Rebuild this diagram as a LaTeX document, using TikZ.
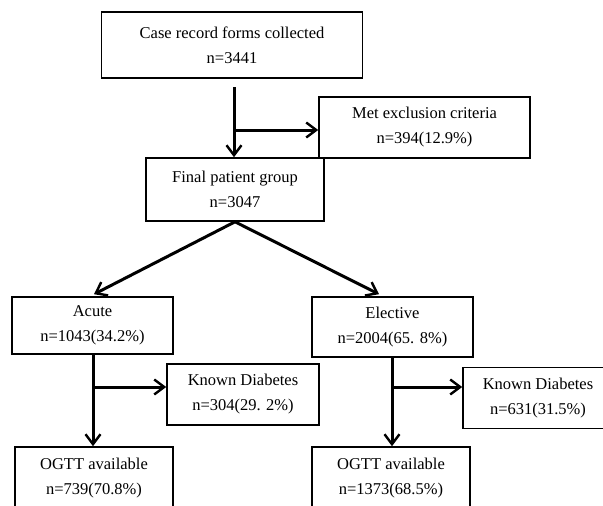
\documentclass[tikz,border=0pt]{standalone}
\usepackage{fontspec}
\setmainfont{Liberation Serif}
\usetikzlibrary{arrows.meta,calc}
\tikzset{
  box/.style={draw=black, line width=1.6pt, inner sep=0pt, align=center,
    font=\fontsize{16.5}{25}\selectfont},
  flow/.style={draw=black, line width=3pt, -{Straight Barb[length=10pt,width=15pt,line width=2.4pt]}}
}
\begin{document}
\begin{tikzpicture}[x=1pt,y=-1pt]
\useasboundingbox (0,0) rectangle (603,506);
\clip (0,0) rectangle (603,506);
\fill[white] (0,0) rectangle (603,506);

\node[box, minimum width=261pt, minimum height=66pt] (case) at (232,45) {Case record forms collected\\n=3441};
\node[box, minimum width=211pt, minimum height=61pt] (excl) at (424.5,127.5) {Met exclusion criteria\\n=394(12.9\%)};
\node[box, minimum width=178pt, minimum height=63pt] (final) at (235,189.5) {Final patient group\\n=3047};
\node[box, minimum width=161pt, minimum height=57pt] (acute) at (92.5,325.5) {Acute\\n=1043(34.2\%)};
\node[box, minimum width=161pt, minimum height=60pt] (elective) at (392.5,327) {Elective\\n=2004(65. 8\%)};
\node[box, minimum width=152pt, minimum height=61pt] (kd1) at (243,394.5) {Known Diabetes\\n=304(29. 2\%)};
\node[box, minimum width=150pt, minimum height=61pt] (kd2) at (538,398) {Known Diabetes\\n=631(31.5\%)};
\node[box, minimum width=158pt, minimum height=63pt] (og1) at (94,478.5) {OGTT available\\n=739(70.8\%)};
\node[box, minimum width=158pt, minimum height=63pt] (og2) at (391,478.5) {OGTT available\\n=1373(68.5\%)};

% case -> final, branch to exclusion
\coordinate (c1) at (234,87);
\coordinate (j1) at (234,130);
\draw[flow] (c1) -- (c1 |- final.north);
\draw[flow] (j1) -- (j1 -| excl.west);

% final -> acute / elective
\draw[flow] (final.south) -- ($(acute.north)+(1.5,-2)$);
\draw[flow] (final.south) -- ($(elective.north)+(-13.5,-2)$);

% acute -> ogtt, branch to known diabetes
\coordinate (a1) at (93,354);
\coordinate (j2) at (93,387);
\draw[flow] (a1) -- (a1 |- og1.north);
\draw[flow] (j2) -- (j2 -| kd1.west);

% elective -> ogtt, branch to known diabetes
\coordinate (e1) at (392,357);
\coordinate (j3) at (392,387);
\draw[flow] (e1) -- (e1 |- og2.north);
\draw[flow] (j3) -- (j3 -| kd2.west);
\end{tikzpicture}
\end{document}
